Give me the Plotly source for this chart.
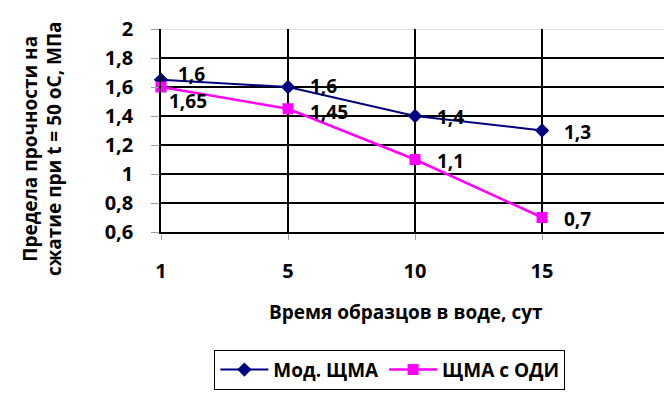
import plotly.graph_objects as go

# Days in water
days = ["1", "5", "10", "15"]
# Compressive strength at 50 °C, MPa
mod_shma = [1.65, 1.6, 1.4, 1.3]
shma_odi = [1.6, 1.45, 1.1, 0.7]
y_ticks = [0.6, 0.8, 1.0, 1.2, 1.4, 1.6, 1.8, 2.0]

FONT = "Open Sans"
BLUE = "#000080"
PINK = "#FF00FF"


def fmt(v):
    return f"{v:g}".replace(".", ",")


fig = go.Figure()
fig.add_trace(go.Scatter(
    x=days, y=mod_shma, name="Мод. ЩМА", mode="lines+markers",
    line=dict(color=BLUE, width=2),
    marker=dict(symbol="diamond", size=11, color=BLUE),
    cliponaxis=False,
))
fig.add_trace(go.Scatter(
    x=days, y=shma_odi, name="ЩМА с ОДИ", mode="lines+markers",
    line=dict(color=PINK, width=2.5),
    marker=dict(symbol="square", size=11, color=PINK),
    cliponaxis=False,
))

# value labels to the right of each point; crowded ones are nudged apart
label_font = dict(family=FONT, size=19, color="black", weight="bold")
annotations = []
for series, shifts in (
    (mod_shma, {0: (6, -21), 1: (20, 1)}),
    (shma_odi, {0: (15, 13), 1: (20, -3)}),
):
    for i, v in enumerate(series):
        xs, ys = shifts.get(i, (20, -1))
        annotations.append(dict(
            x=i, y=v, xref="x", yref="y", text=fmt(v), showarrow=False,
            xanchor="left", yanchor="middle", xshift=xs, yshift=ys,
            font=label_font,
        ))

title_font = dict(family=FONT, size=19, color="black", weight="bold")
annotations.append(dict(
    x=0.487, y=-0.395, xref="paper", yref="paper", showarrow=False,
    text="Время образцов в воде, сут", xanchor="center", yanchor="middle",
    font=title_font,
))
annotations.append(dict(
    x=-0.236, y=0.41, xref="paper", yref="paper", showarrow=False,
    text="Предела прочности на<br>сжатие при t = 50 оС, МПа",
    textangle=-90, xanchor="center", yanchor="middle",
    font=title_font,
))

# horizontal grid: black lines inside, light line on the top edge
shapes = []
for t in y_ticks[1:-1]:
    shapes.append(dict(type="line", xref="paper", yref="y", x0=0, x1=1,
                       y0=t, y1=t, line=dict(color="black", width=2.2),
                       layer="below"))
shapes.append(dict(type="line", xref="paper", yref="y", x0=0, x1=1,
                   y0=y_ticks[-1], y1=y_ticks[-1],
                   line=dict(color="#c8c8c8", width=1), layer="below"))

fig.update_layout(
    width=664, height=394,
    margin=dict(l=161, r=0, t=29, b=162),
    paper_bgcolor="white", plot_bgcolor="white",
    showlegend=True,
    legend=dict(
        orientation="h", x=0.455, xanchor="center", y=-0.58, yanchor="top",
        bordercolor="black", borderwidth=1,
        font=dict(family=FONT, size=19, color="black", weight="bold"),
        itemwidth=48, tracegroupgap=0,
    ),
    annotations=annotations,
    shapes=shapes,
)
fig.update_xaxes(
    type="category", range=[0, 3.96],
    showgrid=True, gridcolor="black", gridwidth=2.2,
    showline=True, linecolor="black", linewidth=1.5,
    ticks="outside", ticklen=6, tickcolor="#a0a0a0",
    ticklabelstandoff=14,
    tickfont=dict(family=FONT, size=20, color="black", weight="bold"),
    zeroline=False,
)
fig.update_yaxes(
    range=[0.6, 2.0], tickvals=y_ticks, ticktext=[fmt(t) for t in y_ticks],
    showgrid=False,
    showline=True, linecolor="black", linewidth=1.5,
    ticks="outside", ticklen=8, tickcolor="#a0a0a0",
    ticklabelstandoff=14,
    tickfont=dict(family=FONT, size=20, color="black", weight="bold"),
    zeroline=False,
)

fig.write_html("out.html")
